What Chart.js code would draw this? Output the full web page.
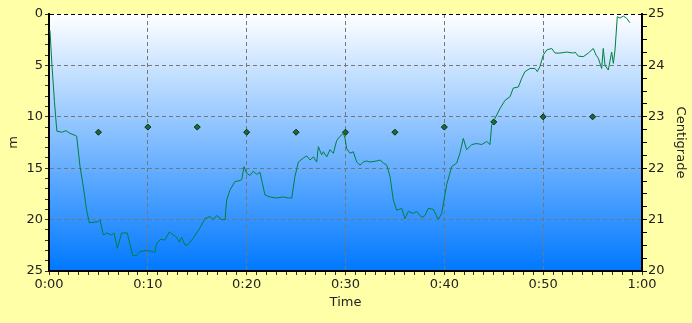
<!DOCTYPE html>
<html>
<head>
<meta charset="utf-8">
<script src="https://cdn.jsdelivr.net/npm/chart.js@4"></script>
<style>
  html, body { margin: 0; padding: 0; background: #ffffa8; }
  #wrap { width: 692px; height: 323px; }
</style>
</head>
<body>
<div id="wrap"><canvas id="chart" width="692" height="323"></canvas></div>
<script>
// depth profile: time in minutes, depth in metres
const diveTimes = [
  0.1, 0.3, 0.55, 0.7, 0.8, 1.3, 1.72, 2.1, 2.63, 2.8, 3.14, 3.47, 3.81, 4.08, 4.99,
  5.16, 5.5, 5.84, 6.34, 6.58, 6.91, 7.35, 7.92, 8.47, 8.87, 9.21, 9.88, 10.39, 10.72,
  10.9, 11.3, 11.74, 12.17, 12.58, 12.92, 13.18, 13.42, 13.76, 14.09, 14.6, 15.28,
  15.78, 16.29, 16.62, 16.97, 17.47, 17.81, 17.98, 18.32, 18.82, 19.33, 19.5, 19.73,
  20.0, 20.34, 20.67, 21.01, 21.35, 21.85, 22.36, 23.04, 23.71, 24.21, 24.56, 24.89,
  25.23, 25.74, 26.08, 26.41, 26.75, 27.09, 27.25, 27.59, 27.76, 28.1, 28.43, 28.77,
  29.11, 29.44, 29.78, 29.95, 30.12, 30.46, 30.79, 31.13, 31.47, 31.8, 32.14, 32.48,
  33.15, 33.49, 33.83, 34.17, 34.5, 34.84, 35.18, 35.68, 36.02, 36.36, 36.86, 37.2,
  37.71, 38.04, 38.38, 38.88, 39.39, 39.73, 40.24, 40.74, 41.25, 41.58, 41.92, 42.26,
  42.77, 43.27, 43.78, 44.29, 44.62, 44.79, 45.13, 45.63, 46.14, 46.64, 46.98, 47.49,
  47.83, 48.16, 48.67, 49.17, 49.41, 49.68, 50.01, 50.36, 50.86, 51.2, 51.7, 52.38,
  53.05, 53.22, 53.56, 54.06, 54.57, 55.07, 55.35, 55.58, 55.92, 56.08, 56.26, 56.59,
  56.93, 57.1, 57.27, 57.5, 57.77, 58.11, 58.44, 58.78
]
const diveDepths = [
  1.6, 5.0, 8.5, 10.3, 11.4, 11.5, 11.35, 11.6, 11.8, 11.9, 14.85, 16.8, 19.1, 20.3, 20.2,
  20.0, 21.5, 21.3, 21.5, 21.3, 22.8, 21.3, 21.3, 23.5, 23.5, 23.1, 23.0, 23.1, 23.2,
  22.3, 21.9, 22.0, 21.2, 21.5, 21.7, 22.2, 21.7, 22.5, 22.4, 21.8, 20.8,
  19.9, 19.7, 20.0, 19.6, 20.0, 20.0, 18.1, 17.1, 16.3, 16.2, 16.1, 14.85,
  15.5, 15.7, 15.3, 15.6, 15.4, 17.6, 17.8, 17.9, 17.8, 17.9, 17.9, 15.8,
  14.4, 14.0, 13.8, 14.2, 13.9, 14.4, 12.9, 13.7, 13.4, 13.9, 13.2, 13.55,
  12.3, 11.9, 11.6, 12.1, 13.1, 13.55, 13.4, 14.4, 14.7, 14.4, 14.3, 14.4,
  14.3, 14.2, 14.5, 14.7, 15.8, 18.1, 19.1, 18.9, 19.9, 19.2, 19.4, 19.2,
  19.8, 19.6, 18.9, 19.0, 20.0, 19.4, 16.6, 14.85, 14.5, 13.55, 12.1, 13.2,
  12.7, 12.6, 12.7, 12.4, 12.7, 10.8, 10.15, 9.2, 8.4, 8.05, 7.2, 7.1,
  6.25, 5.6, 5.3, 5.3, 5.6, 5.1, 4.0, 3.5, 3.35, 3.8, 3.8, 3.7,
  3.8, 3.7, 4.1, 4.15, 3.8, 3.35, 4.0, 4.3, 5.3, 3.35, 5.0, 5.45,
  3.7, 4.8, 3.5, 0.26, 0.4, 0.2, 0.4, 0.85
]

// water temperature samples, every 5 minutes
const tempTimes = [5, 10, 15, 20, 25, 30, 35, 40, 45, 50, 55]
const tempValues = [22.7, 22.8, 22.8, 22.7, 22.7, 22.7, 22.7, 22.8, 22.9, 23.0, 23.0]

const depthMin = 0, depthMax = 25
const tempMin = 20, tempMax = 25
const timeMin = 0, timeMax = 60

const font = { family: "DejaVu Sans", size: 13 }
const textColor = "#222"

const plotBackground = {
  id: "plotBackground",
  beforeDraw(chart) {
    const { ctx, chartArea: a } = chart
    const g = ctx.createLinearGradient(0, a.top, 0, a.bottom)
    g.addColorStop(0, "#ffffff")
    g.addColorStop(1, "#0078ff")
    ctx.save()
    ctx.fillStyle = g
    ctx.fillRect(a.left, a.top, a.right - a.left, a.bottom - a.top)
    ctx.restore()
  },
}

const fmtTime = (v) => `${Math.floor(v / 60)}:${String(v % 60).padStart(2, "0")}`

new Chart(document.getElementById("chart"), {
  type: "scatter",
  data: {
    datasets: [
      {
        label: "Depth",
        data: diveTimes.map((t, i) => ({ x: t, y: diveDepths[i] })),
        showLine: true,
        borderColor: "#008040",
        borderWidth: 1,
        pointRadius: 0,
        tension: 0,
        yAxisID: "y",
      },
      {
        label: "Temperature",
        data: tempTimes.map((t, i) => ({ x: t, y: tempValues[i] })),
        showLine: false,
        pointStyle: "rectRot",
        pointRadius: 3,
        backgroundColor: "#1d6a35",
        borderColor: "#0b2a12",
        borderWidth: 1,
        yAxisID: "y2",
      },
    ],
  },
  options: {
    responsive: false,
    animation: false,
    layout: { padding: { top: 14, left: 0, right: 0, bottom: 0 } },
    plugins: { legend: { display: false }, tooltip: { enabled: false } },
    scales: {
      x: {
        type: "linear",
        min: timeMin,
        max: timeMax,
        afterFit: (s) => { s.height = 52 },
        ticks: {
          stepSize: 1,
          autoSkip: false,
          maxRotation: 0,
          padding: 2,
          color: textColor,
          font,
          callback: (v) => (v % 10 === 0 ? fmtTime(v) : ""),
        },
        grid: {
          color: (c) => {
            const v = c.tick && c.tick.value
            return v % 10 === 0 && v !== timeMin && v !== timeMax ? "#777" : "rgba(0,0,0,0)"
          },
          tickColor: "#333",
          tickLength: 4,
          lineWidth: 1,
        },
        border: { color: "#000", width: 2, dash: [4, 3] },
        title: { display: true, text: "Time", color: textColor, font, padding: { top: 0, bottom: 13 } },
      },
      y: {
        type: "linear",
        position: "left",
        reverse: true,
        min: depthMin,
        max: depthMax,
        afterFit: (s) => { s.width = 49 },
        ticks: {
          stepSize: 1,
          autoSkip: false,
          padding: 2,
          color: textColor,
          font,
          callback: (v) => (v % 5 === 0 ? String(v) : ""),
        },
        grid: {
          color: (c) => {
            const v = c.tick && c.tick.value
            if (v === depthMin) return "#000"
            return v % 5 === 0 && v !== depthMax ? "#777" : "rgba(0,0,0,0)"
          },
          tickColor: "#333",
          tickLength: 4,
          lineWidth: 1,
        },
        border: { color: "#000", width: 2, dash: [4, 3] },
        title: { display: true, text: "m", color: textColor, font, padding: { top: 6, bottom: 0 } },
      },
      y2: {
        type: "linear",
        position: "right",
        min: tempMin,
        max: tempMax,
        afterFit: (s) => { s.width = 50 },
        ticks: {
          stepSize: 0.25,
          autoSkip: false,
          padding: 1,
          color: textColor,
          font,
          callback: (v) => (Number.isInteger(v) ? String(v) : ""),
        },
        grid: { drawOnChartArea: false, tickColor: "#000", tickLength: 5 },
        border: { color: "#000", width: 2 },
        title: { display: true, text: "Centigrade", color: textColor, font, padding: { top: 4, bottom: 0 } },
      },
    },
  },
  plugins: [plotBackground],
})
</script>
</body>
</html>
